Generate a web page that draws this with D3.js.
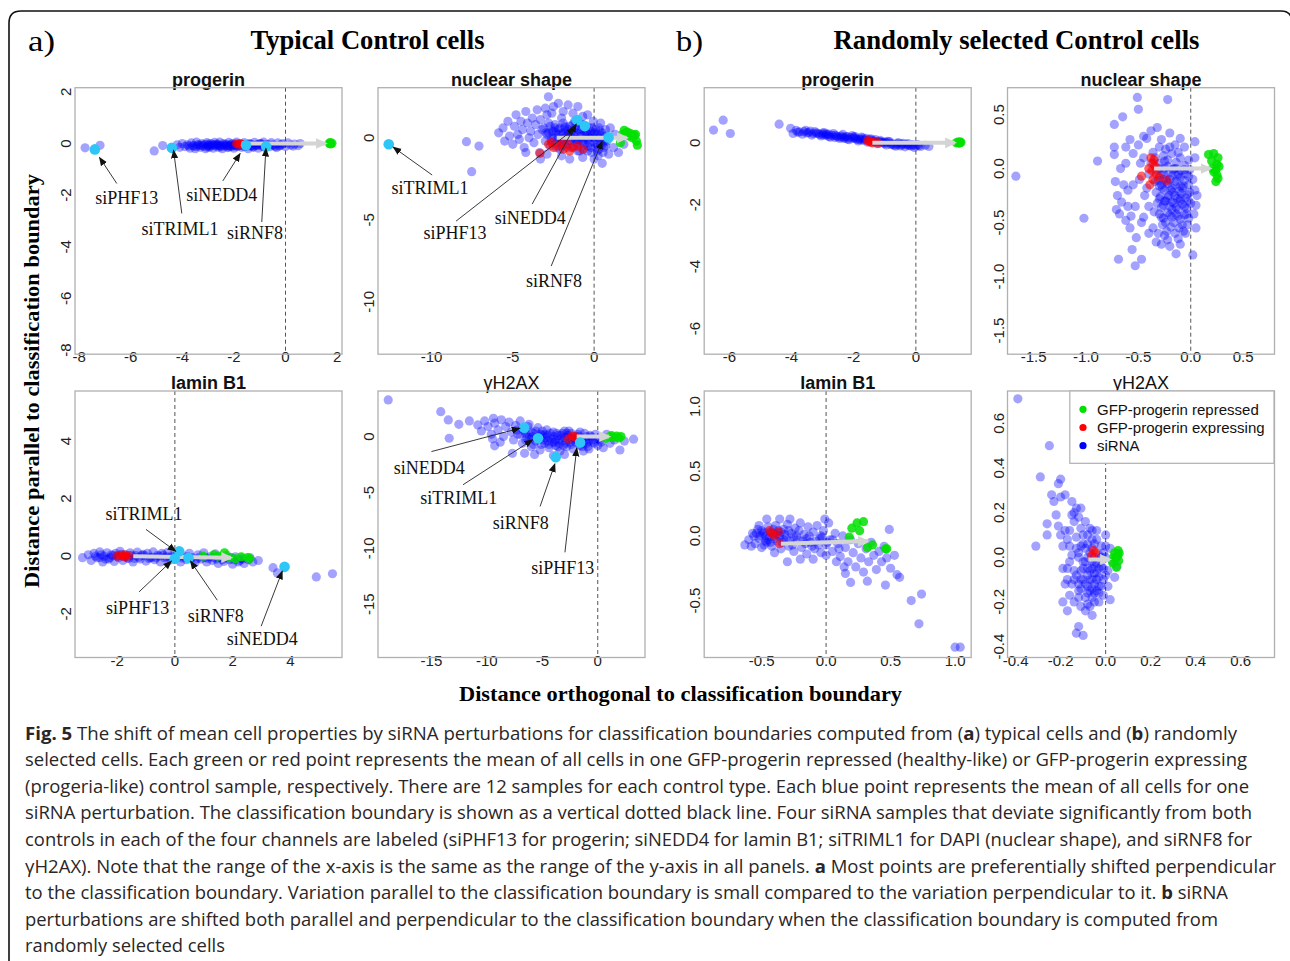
<!DOCTYPE html>
<html>
<head>
<meta charset="utf-8">
<script src="https://cdn.jsdelivr.net/npm/d3@7"></script>
<style>
  body { margin: 0; background: #fff; }
  svg { display: block; }
</style>
</head>
<body>
<div id="chart"></div>
<script>
// ---------- data ----------

// a) typical control cells : progerin
const a1Blue = [[-7.77,-0.17],[-7.19,-0.07],[-5.09,-0.29],[-4.76,-0.08],
  [-4.2,-0.05],[-4.1,-0.15],[-4.0,0.0],[-3.9,-0.12],[-3.8,-0.05],[-3.7,-0.18],[-3.65,0.02],[-3.55,-0.1],[-3.5,-0.2],[-3.45,0.05],
  [-3.4,-0.05],[-3.3,-0.15],[-3.25,0.0],[-3.2,-0.1],[-3.1,-0.2],[-3.05,0.03],[-3.0,-0.08],[-2.95,-0.15],[-2.9,0.0],[-2.85,-0.05],
  [-2.8,-0.18],[-2.75,0.04],[-2.7,-0.1],[-2.65,-0.02],[-2.6,-0.15],[-2.55,0.05],[-2.5,-0.08],[-2.45,-0.2],[-2.4,0.0],[-2.35,-0.1],
  [-2.3,-0.03],[-2.25,-0.16],[-2.2,0.04],[-2.15,-0.07],[-2.1,-0.12],[-2.05,0.0],[-2.0,-0.18],[-1.95,-0.05],[-1.9,0.05],[-1.85,-0.12],
  [-1.75,-0.02],[-1.7,-0.15],[-1.6,0.03],[-1.5,-0.1],[-1.45,-0.2],[-1.4,0.0],[-1.3,-0.08],[-1.25,-0.15],[-1.2,0.04],[-1.1,-0.05],
  [-1.05,-0.18],[-1.0,0.0],[-0.9,-0.1],[-0.85,0.05],[-0.8,-0.15],[-0.7,-0.03],[-0.6,-0.12],[-0.55,0.03],[-0.45,-0.07],[-0.35,-0.16],
  [-0.3,0.02],[-0.2,-0.08],[-0.1,0.0],[0.0,-0.12],[0.1,0.02],[0.2,-0.06],[0.35,-0.02],[0.5,-0.08],[0.57,0.0],
  [-3.6,-0.08],[-3.35,-0.06],[-3.15,-0.04],[-2.98,-0.1],[-2.78,-0.06],[-2.58,-0.09],[-2.38,-0.05],[-2.18,-0.1],[-1.98,-0.06],
  [-1.8,-0.08],[-1.55,-0.05],[-1.35,-0.1],[-1.15,-0.07],[-0.95,-0.04],[-0.75,-0.09],[-0.5,-0.05],[-0.25,-0.1],
  [-3.45,-0.12],[-3.25,-0.08],[-3.05,-0.14],[-2.9,-0.09],[-2.7,-0.04],[-2.5,-0.13],[-2.3,-0.08],[-2.1,-0.03],[-1.9,-0.1],
  [-1.65,-0.08],[-1.45,-0.03],[-1.25,-0.12],[-1.05,-0.07],[-0.85,-0.12],[-0.65,-0.06],[-0.4,-0.12],[-3.75,-0.1],[-3.0,-0.02],
  [-2.2,-0.14],[-1.6,-0.12],[-0.95,0.0],[-0.15,-0.04],[0.3,-0.1],[-2.6,-0.06],[-2.0,-0.09],[-1.35,-0.02]];
const a1Red = [[-1.82,-0.03],[-1.75,0.0],[-1.9,-0.01],[-1.7,-0.04]];
const a1Green = [[1.7,0.0],[1.75,-0.02],[1.8,0.01],[1.72,0.03]];
const a1Cyan = [[-7.39,-0.23],[-4.41,-0.17],[-1.53,-0.07],[-0.75,-0.12]];
const a1Shift = [[-1.7,0.0],[1.55,0.0]];
const a1Notes = [
  { name: "siPHF13",  label: [-6.15,-2.13], from: [-6.54,-1.55], tip: [-7.21,-0.54] },
  { name: "siTRIML1", label: [-4.09,-3.32], from: [-4.02,-2.71], tip: [-4.34,-0.26] },
  { name: "siNEDD4",  label: [-2.47,-2.0],  from: [-2.43,-1.45], tip: [-1.76,-0.39] },
  { name: "siRNF8",   label: [-1.18,-3.45], from: [-0.92,-3.04], tip: [-0.76,-0.19] }
];

// a) typical control cells : nuclear shape
const a2Blue = [[-7.85,-0.24],[-7.08,-0.51],[-7.53,-2.07],
  [-5.87,0.3],[-5.6,0.6],[-5.5,-0.2],[-5.3,1.0],[-5.2,0.1],[-5.0,-0.4],[-4.9,0.7],[-4.8,1.4],[-4.7,0.2],[-4.6,-0.1],
  [-4.5,1.0],[-4.4,0.5],[-4.3,-0.6],[-4.2,1.6],[-4.1,0.9],[-4.0,0.0],[-3.9,0.4],[-3.8,1.2],[-3.7,-0.3],[-3.6,0.8],
  [-3.5,1.7],[-3.45,0.2],[-3.35,-0.9],[-3.3,1.1],[-3.2,0.5],
  [-2.81,2.5],[-2.5,1.9],[-2.2,2.1],[-1.9,1.6],[-1.6,2.0],[-1.3,1.5],[-1.0,1.9],[-0.7,1.3],[-2.9,1.4],[-2.6,1.5],
  [-3.0,1.8],[-0.4,1.4],[-2.0,1.2],
  [-3.1,0.6],[-3.0,-0.2],[-2.9,0.2],[-2.8,0.9],[-2.7,-0.5],[-2.6,0.4],[-2.5,0.0],[-2.4,0.8],[-2.3,-0.3],[-2.2,0.5],
  [-2.1,-0.7],[-2.0,0.2],[-1.9,0.9],[-1.8,-0.4],[-1.7,0.4],[-1.6,-0.1],[-1.5,0.7],[-1.4,-0.6],[-1.3,0.2],[-1.2,1.0],
  [-1.1,-0.3],[-1.0,0.5],[-0.9,-0.8],[-0.8,0.1],[-0.7,0.8],[-0.6,-0.4],[-0.5,0.3],[-0.4,-0.1],[-0.3,0.6],[-0.2,-0.6],
  [-0.1,0.2],[0.0,-0.3],[0.1,0.5],[0.2,-0.8],[0.3,0.0],[0.4,-0.4],[0.5,0.3],[0.6,-0.6],[0.7,0.1],[0.8,-0.2],
  [-2.95,0.3],[-2.65,-0.1],[-2.35,0.3],[-2.05,-0.2],[-1.75,0.1],[-1.45,0.3],[-1.15,-0.1],[-0.85,0.4],[-0.55,0.0],
  [-0.25,0.1],[0.05,-0.1],[0.35,0.4],[-1.95,-0.5],[-1.25,-0.5],[-0.65,-0.7],[-0.15,-0.9],[0.25,-1.1],[0.55,-0.9],
  [-3.3,-1.3],[-2.9,-1.0],[-2.0,-1.1],[-1.5,-1.3],[-0.7,-1.2],[0.0,-1.3],[0.5,-1.56],[0.9,-1.0],[1.2,-0.6],[1.5,-0.9],
  [1.83,-0.4],[1.3,0.2],[1.0,0.6],[-4.2,-0.9],[-0.05,1.0],[0.4,0.9],[0.7,0.5],
  [-1.6,0.2],[-1.2,0.1],[-0.8,-0.2],[-0.4,0.2],[0.0,0.0],[-2.2,0.0],[-1.0,-0.1],[-0.3,-0.3],[0.2,0.2],[-1.8,0.6],
  [-2.8,0.3],[-2.6,-0.2],[-2.4,0.6],[-2.2,0.2],[-2.0,-0.1],[-1.8,0.7],[-1.6,0.5],[-1.4,0.0],[-1.2,0.6],[-1.0,-0.3],
  [-0.8,0.5],[-0.6,0.2],[-0.4,-0.5],[-0.2,0.4],[0.0,0.3],[0.2,-0.4],[0.4,0.1],[0.6,-0.2],[-2.7,0.7],[-2.3,-0.6],
  [-1.9,0.3],[-1.5,-0.2],[-1.1,0.3],[-0.7,-0.3],[-0.3,0.0],[0.1,-0.6],[0.5,-0.4],[-1.3,0.8],[-0.9,0.9],[-0.5,0.7],
  [-0.1,0.6],[0.3,0.6],[-1.7,-0.6],[-1.0,-0.8],[-0.4,-0.8],[0.3,-0.7],[0.7,-0.5],[-2.5,0.4],[-2.1,0.6],[-0.6,0.5]];
const a2Red = [[-3.33,-0.95],[-2.8,-0.4],[-2.5,-0.6],[-2.2,-0.5],[-1.9,-0.7],[-1.6,-0.4],[-1.3,-0.6],[-1.0,-0.5],
  [-0.7,-0.7],[-2.6,-0.3],[-2.0,-0.3],[-1.5,-0.8]];
const a2Green = [[1.62,-0.3],[1.75,0.2],[1.85,0.45],[1.95,0.3],[2.05,0.35],[2.15,0.1],[2.25,0.25],[2.35,0.0],
  [2.45,0.15],[2.55,0.2],[2.6,-0.2],[2.66,-0.45]];
const a2Cyan = [[-12.63,-0.40],[-1.04,1.08],[-0.57,0.71],[0.89,0.02]];
const a2Shift = [[-2.3,0.0],[2.0,0.0]];
const a2Notes = [
  { name: "siTRIML1", label: [-10.09,-3.07], from: [-9.96,-2.27], tip: [-12.36,-0.57] },
  { name: "siPHF13",  label: [-8.55,-5.81],  from: [-8.49,-5.08], tip: [-1.16,0.59] },
  { name: "siNEDD4",  label: [-3.93,-4.9],   from: [-3.81,-4.04], tip: [-1.1,0.84] },
  { name: "siRNF8",   label: [-2.46,-8.74],  from: [-2.64,-7.82], tip: [0.5,-0.2] }
];

// a) typical control cells : lamin B1
const a3Blue = [[-3.2,-0.05],[-3.0,0.05],[-2.9,-0.15],[-2.8,0.1],[-2.7,-0.05],[-2.6,0.15],[-2.5,-0.2],[-2.45,0.0],
  [-2.35,0.12],[-2.3,-0.1],[-2.2,0.05],[-2.1,-0.18],[-2.05,0.1],[-1.95,-0.05],[-1.9,0.17],[-1.8,-0.15],[-1.7,0.05],
  [-1.6,-0.08],[-1.55,0.12],[-1.45,-0.2],[-1.35,0.02],[-1.3,0.14],[-1.2,-0.1],[-1.1,0.06],[-1.0,-0.17],[-0.95,0.1],
  [-0.85,-0.05],[-0.75,0.15],[-0.7,-0.12],[-0.6,0.03],[-0.5,-0.2],[-0.45,0.1],[-0.35,-0.06],[-0.25,0.13],[-0.2,-0.15],
  [-0.1,0.02],[0.0,-0.1],[0.1,0.08],[0.2,-0.2],[0.3,0.0],[0.4,-0.12],[0.5,0.1],[0.6,-0.05],[0.7,-0.22],[0.8,0.05],
  [0.9,-0.1],[1.0,0.12],[1.1,-0.2],[1.2,-0.02],[1.3,-0.15],[1.4,0.08],[1.5,-0.25],[1.6,-0.05],[1.7,-0.18],[1.8,0.03],
  [1.9,-0.12],[2.0,-0.28],[2.1,-0.02],[2.2,-0.2],[2.3,-0.08],[2.4,-0.25],[2.55,-0.12],[2.7,-0.2],[2.89,-0.15],
  [-2.75,0.0],[-2.55,0.05],[-2.25,-0.05],[-2.0,0.0],[-1.75,-0.02],[-1.5,0.03],[-1.25,-0.04],[-1.05,0.02],[-0.8,-0.03],
  [-0.55,0.0],[-0.3,-0.02],[-0.05,0.0],[0.25,-0.06],[0.55,-0.08],[0.85,-0.04],[1.15,-0.08],[1.45,-0.1],[1.75,-0.06],
  [2.05,-0.12],[2.35,-0.1],
  [-2.6,-0.05],[-2.4,-0.1],[-2.15,0.02],[-1.85,0.06],[-1.65,-0.06],[-1.4,-0.08],[-1.15,0.03],[-0.9,-0.08],[-0.65,-0.05],
  [-0.4,0.04],[-0.15,-0.06],[0.15,-0.02],[0.45,-0.02],[0.75,-0.1],[1.05,-0.05],[1.35,-0.05],[1.65,-0.12],[1.95,-0.05],
  [2.25,-0.15],[2.6,-0.05],
  [3.4,-0.4],[3.55,-0.58],[4.9,-0.72],[5.46,-0.61]];
const a3Red = [[-1.8,0.0],[-1.9,0.03],[-1.7,-0.02],[-1.6,0.02],[-2.0,0.0],[-1.75,0.05]];
const a3Green = [[0.98,0.0],[1.35,0.05],[1.72,0.12],[1.9,-0.05],[2.1,-0.09],[2.52,-0.05],[2.6,-0.08],[1.5,0.0],[2.3,-0.02]];
const a3Cyan = [[0.15,0.17],[0.0,-0.09],[0.47,-0.06],[3.8,-0.37]];
const a3Shift = [[-1.44,0.0],[1.94,-0.05]];
const a3Notes = [
  { name: "siTRIML1", label: [-1.07,1.45],  from: [-1.0,0.93],   tip: [0.03,0.17] },
  { name: "siPHF13",  label: [-1.29,-1.79], from: [-1.24,-1.24], tip: [-0.12,-0.17] },
  { name: "siRNF8",   label: [1.42,-2.08],  from: [1.47,-1.53],  tip: [0.54,-0.17] },
  { name: "siNEDD4",  label: [3.03,-2.87],  from: [2.99,-2.43],  tip: [3.72,-0.52] }
];

// a) typical control cells : gammaH2AX
const a4Blue = [[-18.9,3.28],[-14.16,2.23],[-13.48,1.49],[-12.53,1.1],[-11.58,1.4],[-13.4,-0.15],[-10.82,1.04],[-9.41,1.64],[-9.3,-0.83],
  [-10.5,0.5],[-10.2,1.4],[-9.9,0.9],[-9.6,0.2],[-9.3,1.2],[-9.0,0.6],[-8.7,1.5],[-8.5,0.0],[-8.3,0.9],[-8.0,1.3],
  [-7.8,0.4],[-7.6,-0.3],[-7.4,1.0],[-7.2,0.2],[-7.0,1.4],[-6.8,-0.6],[-6.6,0.5],[-6.4,-0.1],[-6.2,1.1],[-6.0,-0.9],
  [-5.8,0.3],[-5.6,-0.4],[-5.4,0.8],[-5.2,-1.2],[-5.0,0.1],[-4.8,-0.6],[-4.6,0.6],[-4.4,-1.0],[-4.2,-0.2],[-4.0,0.4],
  [-3.8,-0.8],[-3.6,0.1],[-3.4,-1.3],[-3.2,-0.4],[-3.0,0.5],[-2.8,-0.9],[-2.6,-0.1],[-2.4,0.3],[-2.2,-1.1],[-2.0,-0.5],
  [-1.8,0.2],[-1.6,-0.8],[-1.4,-0.2],[-1.2,0.3],[-1.0,-0.6],[-0.8,-1.1],[-0.6,0.0],[-0.4,-0.5],[-0.2,0.2],[0.0,-0.8],
  [0.2,-0.3],[0.5,-1.0],[0.8,0.2],[1.1,-0.6],[1.5,-0.3],[2.0,-1.2],[2.4,-0.4],[3.23,-0.23],
  [-7.0,0.2],[-6.5,-0.3],[-6.0,0.4],[-5.5,-0.1],[-5.0,0.5],[-4.5,-0.4],[-4.0,0.0],[-3.5,-0.6],[-3.0,-0.1],[-2.5,-0.5],
  [-2.0,0.0],[-1.5,-0.4],[-1.0,0.0],[-0.5,-0.3],[0.0,-0.2],[-6.8,0.7],[-5.8,-0.7],[-4.8,0.2],[-3.8,-0.3],[-2.8,0.3],
  [-1.8,-0.3],[-0.8,-0.4],[-5.3,0.0],[-4.3,0.3],[-3.3,0.1],[-2.3,-0.3],[-1.3,-0.6],[-6.2,-0.1],[-3.6,-0.9],[-2.9,-0.6],
  [-6.5,0.3],[-6.0,-0.2],[-5.6,0.5],[-5.2,0.2],[-4.9,-0.3],[-4.5,0.1],[-4.1,-0.5],[-3.7,0.3],[-3.4,-0.2],[-3.1,-0.8],
  [-2.7,0.1],[-2.4,-0.7],[-2.1,-0.2],[-1.7,0.0],[-1.4,-0.9],[-1.1,-0.3],[-0.7,0.1],[-0.3,-0.6],[0.3,-0.5],[-5.9,0.0],
  [-4.7,-0.1],[-3.9,-0.5],[-2.6,0.5],[-1.6,0.4],[-0.9,-0.9],[-7.3,0.6],[-6.3,0.9],[-5.1,-0.7],[-4.4,-0.7],[-3.2,0.3],
  [-7.7,-1.5],[-6.6,-1.5],[-5.7,-1.6],[-4.0,-1.7],[-3.0,-1.6],[-1.3,-1.3],[-8.8,-0.5],[-9.5,-0.2]];
const a4Red = [[-2.08,0.0],[-2.65,-0.2],[-2.3,0.05],[-1.9,-0.1]];
const a4Green = [[0.76,-0.15],[1.1,0.0],[1.4,-0.1],[1.7,0.05],[2.09,0.0],[1.9,-0.12],[1.25,0.08]];
const a4Cyan = [[-6.64,0.8],[-5.39,-0.15],[-3.79,-1.84],[-1.59,-0.53]];
const a4Shift = [[-1.9,0.0],[1.0,0.0]];
const a4Notes = [
  { name: "siNEDD4",  label: [-15.19,-2.82], from: [-15.0,-1.34], tip: [-7.02,0.75] },
  { name: "siTRIML1", label: [-12.53,-5.5],  from: [-12.15,-4.31], tip: [-5.88,-0.29] },
  { name: "siRNF8",   label: [-6.95,-7.73],  from: [-5.2,-6.25],  tip: [-3.87,-2.44] },
  { name: "siPHF13",  label: [-3.15,-11.75], from: [-2.96,-10.36], tip: [-1.9,-1.04] }
];

// b) randomly selected control cells : progerin
const b1Blue = [[-6.51,0.41],[-6.2,0.73],[-5.97,0.30],[-4.4,0.6],[-4.03,0.47],
  [-3.95,0.3],[-3.85,0.4],[-3.75,0.35],[-3.65,0.28],[-3.55,0.4],[-3.45,0.33],[-3.35,0.25],[-3.25,0.36],[-3.15,0.3],
  [-3.05,0.22],[-2.95,0.33],[-2.85,0.26],[-2.75,0.18],[-2.65,0.3],[-2.55,0.22],[-2.45,0.14],[-2.35,0.27],[-2.25,0.2],
  [-2.15,0.1],[-2.05,0.23],[-1.95,0.15],[-1.85,0.06],[-1.75,0.18],[-1.65,0.1],[-1.55,0.02],[-1.45,0.13],[-1.35,0.05],
  [-1.25,-0.03],[-1.15,0.08],[-1.05,0.0],[-0.95,-0.07],[-0.85,0.04],[-0.75,-0.04],[-0.65,-0.11],[-0.55,0.0],[-0.45,-0.07],
  [-0.35,-0.13],[-0.25,-0.03],[-0.15,-0.1],[-0.05,-0.15],[0.05,-0.06],[0.15,-0.12],[0.3,-0.08],[0.42,-0.12],
  [-3.5,0.32],[-3.3,0.3],[-3.1,0.27],[-2.9,0.24],[-2.7,0.24],[-2.5,0.19],[-2.3,0.17],[-2.1,0.16],[-1.9,0.11],[-1.7,0.08],
  [-1.6,0.14],[-1.4,0.09],[-1.2,0.03],[-1.0,-0.03],[-0.8,-0.02],[-0.6,-0.06],[-0.4,-0.02],[-0.2,-0.09],[0.0,-0.1],
  [-3.4,0.38],[-3.0,0.31],[-2.8,0.2],[-2.6,0.17],[-2.4,0.22],[-2.2,0.12],[-2.0,0.19],[-1.8,0.13],[-1.3,0.1],[-1.1,0.02],
  [-0.9,0.05],[-0.7,-0.08],[-0.5,-0.1],[-0.3,-0.05],
  [-3.6,0.36],[-3.2,0.32],[-3.0,0.26],[-2.8,0.28],[-2.6,0.24],[-2.4,0.18],[-2.2,0.2],[-2.0,0.14],[-1.8,0.1],[-1.7,0.15],
  [-1.5,0.11],[-1.3,0.02],[-1.15,0.04],[-0.95,0.01],[-0.8,-0.06],[-0.6,-0.01],[-0.45,-0.04],[-0.25,-0.08],[-0.1,-0.06],
  [0.1,-0.09],[-3.8,0.34],[-2.9,0.29],[-2.3,0.14],[-1.95,0.2],[-1.0,0.03]];
const b1Red = [[-1.51,0.05],[-1.45,0.02],[-1.55,0.07],[-1.4,0.0],[-1.2,-0.02],[-1.3,0.04]];
const b1Green = [[1.3,0.0],[1.35,0.02],[1.4,-0.01],[1.45,0.01],[1.38,0.0],[1.42,0.03]];
const b1Shift = [[-1.4,0.0],[1.25,0.0]];

// b) randomly selected control cells : nuclear shape
const b2Blue = [[-1.67,-0.07],[-1.02,-0.46],[-0.89,0.07],[-0.51,0.66],[-0.50,0.55],[-0.22,0.64],[-0.65,0.48],[-0.73,0.41],
  [-0.53,-0.90],[-0.69,-0.84],[-0.47,-0.84],[-0.56,-0.75],[-0.14,-0.79],[0.02,-0.80],
  [-0.73,0.2],[-0.73,0.13],[-0.72,-0.12],[-0.7,-0.25],[-0.71,-0.38],[-0.68,-0.42],[-0.66,-0.31],[-0.62,0.05],[-0.6,-0.2],
  [-0.58,-0.55],[-0.55,0.14],[-0.53,-0.35],[-0.5,0.22],[-0.49,-0.1],[-0.47,-0.5],[-0.45,0.3],[-0.44,-0.25],[-0.52,-0.64],
  [-0.57,-0.44],[-0.62,-0.48],[-0.64,-0.15],[-0.67,0.0],
  [-0.38,0.35],[-0.32,0.38],[-0.42,0.28],[-0.28,0.27],[-0.2,0.33],[-0.1,0.28],[-0.15,0.22],[-0.3,0.2],[0.04,0.25],[-0.36,0.15],
  [-0.34,0.1],[-0.3,0.05],[-0.26,0.12],[-0.22,0.08],[-0.18,0.14],[-0.14,0.06],[-0.1,0.1],[-0.06,0.03],[-0.02,0.08],
  [-0.33,-0.02],[-0.29,-0.06],[-0.25,0.0],[-0.21,-0.04],[-0.17,-0.01],[-0.13,-0.07],[-0.09,-0.02],[-0.05,-0.05],[-0.01,-0.01],
  [-0.34,-0.12],[-0.3,-0.16],[-0.26,-0.1],[-0.22,-0.14],[-0.18,-0.18],[-0.14,-0.12],[-0.1,-0.16],[-0.06,-0.11],[-0.02,-0.15],
  [-0.33,-0.22],[-0.29,-0.26],[-0.25,-0.2],[-0.21,-0.25],[-0.17,-0.22],[-0.13,-0.28],[-0.09,-0.23],[-0.05,-0.27],[-0.01,-0.22],
  [-0.32,-0.32],[-0.28,-0.36],[-0.24,-0.3],[-0.2,-0.35],[-0.16,-0.32],[-0.12,-0.38],[-0.08,-0.33],[-0.04,-0.37],[0.0,-0.32],
  [-0.3,-0.42],[-0.26,-0.46],[-0.22,-0.41],[-0.18,-0.45],[-0.14,-0.42],[-0.1,-0.47],[-0.06,-0.43],[-0.02,-0.46],
  [-0.36,-0.55],[-0.31,-0.6],[-0.27,-0.52],[-0.23,-0.58],[-0.19,-0.54],[-0.15,-0.6],[-0.11,-0.55],[-0.07,-0.58],[-0.03,-0.52],
  [0.03,-0.42],[0.05,-0.34],[0.04,-0.2],[0.02,-0.1],
  [-0.33,-0.68],[-0.28,-0.7],[-0.22,-0.66],[-0.2,-0.72],[-0.12,-0.65],[-0.05,-0.6],
  [-0.2,-0.1],[-0.15,-0.25],[-0.12,-0.05],[-0.08,-0.18],[-0.25,-0.3],[-0.18,-0.38],[-0.1,-0.3],[-0.28,-0.15],[-0.16,0.0],
  [-0.24,0.18],[-0.4,-0.05],[-0.4,-0.35],[-0.38,0.05],[-0.42,-0.18],
  [-0.3,0.0],[-0.26,-0.05],[-0.22,0.02],[-0.18,-0.07],[-0.14,0.0],[-0.1,-0.08],[-0.06,-0.01],[-0.02,-0.07],
  [-0.31,-0.11],[-0.27,-0.18],[-0.23,-0.12],[-0.19,-0.2],[-0.15,-0.15],[-0.11,-0.21],[-0.07,-0.16],[-0.03,-0.24],
  [-0.3,-0.28],[-0.26,-0.34],[-0.22,-0.27],[-0.18,-0.31],[-0.14,-0.36],[-0.1,-0.28],[-0.06,-0.35],[-0.02,-0.3],
  [-0.28,-0.45],[-0.24,-0.5],[-0.2,-0.43],[-0.16,-0.5],[-0.12,-0.44],[-0.08,-0.52],[-0.04,-0.42],
  [-0.25,0.07],[-0.2,0.2],[-0.12,0.15],[-0.06,0.2],[-0.45,-0.45],[-0.4,-0.6],[-0.35,-0.4],[-0.48,0.05],[-0.55,-0.15],
  [-0.6,-0.35],[-0.62,0.2],[-0.45,0.1],[-0.58,0.27],[-0.1,-0.7],[-0.25,-0.62],[0.05,-0.55],[0.04,0.1],[0.06,-0.25]];
const b2Red = [[-0.36,0.05],[-0.47,-0.07],[-0.39,-0.15],[-0.23,-0.11],[-0.37,-0.02],[-0.35,0.08],[-0.33,-0.05],[-0.4,0.0],
  [-0.3,-0.08],[-0.38,0.1],[-0.34,0.02],[-0.36,-0.1]];
const b2Green = [[0.17,0.13],[0.22,0.14],[0.26,0.1],[0.2,0.07],[0.25,0.04],[0.24,-0.01],[0.27,0.02],[0.22,-0.03],
  [0.25,-0.06],[0.26,-0.09],[0.24,-0.12],[0.21,0.0]];
const b2Shift = [[-0.35,0.0],[0.185,0.0]];

// b) randomly selected control cells : lamin B1
const b3Blue = [[0.66,-0.50],[0.74,-0.45],[0.72,-0.68],[1.0,-0.86],[1.04,-0.86],
  [0.49,0.05],[0.46,-0.38],[0.57,-0.32],[0.19,-0.36],[0.32,-0.35],[0.15,-0.29],
  [-0.46,0.13],[-0.36,0.13],[-0.28,0.13],[-0.01,0.13],[-0.63,-0.07],
  [-0.6,-0.03],[-0.57,0.02],[-0.55,-0.06],[-0.53,0.05],[-0.51,0.0],[-0.5,-0.09],[-0.48,0.03],[-0.47,-0.04],[-0.45,0.07],
  [-0.44,-0.01],[-0.42,-0.08],[-0.41,0.02],[-0.39,0.08],[-0.38,-0.04],[-0.36,0.0],[-0.35,-0.1],[-0.33,0.05],[-0.31,-0.02],
  [-0.3,0.09],[-0.29,-0.08],[-0.27,0.02],[-0.25,-0.12],[-0.24,0.06],[-0.22,-0.03],[-0.2,0.1],[-0.19,-0.09],[-0.17,0.01],
  [-0.15,-0.14],[-0.14,0.07],[-0.12,-0.05],[-0.1,0.03],[-0.09,-0.1],[-0.07,0.08],[-0.05,-0.02],[-0.04,-0.13],[-0.02,0.04],
  [0.0,-0.07],[0.02,0.1],[0.03,-0.03],[0.05,-0.12],[0.07,0.02],[0.09,-0.06],[0.11,-0.16],[0.13,0.0],[0.15,-0.09],
  [0.17,-0.2],[0.19,-0.03],[0.21,-0.13],[0.23,-0.24],[0.25,-0.06],[0.27,-0.17],[0.29,-0.28],[0.31,-0.1],[0.33,-0.2],
  [0.35,-0.05],[0.37,-0.15],[0.39,-0.26],[0.41,-0.12],[0.43,-0.2],[0.45,-0.08],[0.47,-0.17],[0.5,-0.25],[0.53,-0.15],[0.55,-0.3],
  [-0.56,0.0],[-0.52,-0.02],[-0.49,0.02],[-0.46,-0.05],[-0.43,0.03],[-0.4,-0.02],[-0.37,0.04],[-0.34,-0.05],[-0.32,0.01],
  [-0.28,-0.04],[-0.23,0.0],[-0.18,-0.04],[-0.13,0.0],[-0.08,-0.04],[-0.03,-0.01],[0.01,-0.05],[-0.26,-0.07],[-0.16,-0.06],
  [-0.06,-0.07],[-0.3,-0.2],[-0.2,-0.18],[-0.1,-0.18],[0.0,-0.15],[-0.4,-0.13],[0.08,-0.2],[0.14,-0.24],
  [-0.54,0.02],[-0.5,0.04],[-0.47,0.0],[-0.45,-0.03],[-0.43,-0.05],[-0.41,0.05],[-0.38,0.01],[-0.35,0.03],[-0.33,-0.03],
  [-0.29,0.04],[-0.25,-0.01],[-0.21,0.04],[-0.15,-0.02],[-0.11,-0.08],[-0.04,0.0],[0.05,-0.03],[0.1,-0.1],[-0.58,-0.08],
  [-0.52,0.08],[-0.48,-0.07]];
const b3Red = [[-0.44,0.04],[-0.37,0.03],[-0.36,-0.06],[-0.4,0.0],[-0.42,0.02]];
const b3Green = [[0.18,-0.01],[0.2,0.06],[0.24,0.10],[0.26,0.04],[0.29,0.11],[0.32,-0.09],[0.36,-0.07],[0.46,-0.10],[0.47,-0.10]];
const b3Shift = [[-0.35,-0.06],[0.32,-0.04]];

// b) randomly selected control cells : gammaH2AX
const b4Blue = [[-0.39,0.71],[-0.25,0.50],[-0.29,0.36],[-0.2,0.35],[-0.21,0.33],[-0.24,0.28],[-0.23,0.25],[-0.18,0.28],
  [-0.2,0.27],[-0.15,0.25],[-0.26,0.15],[-0.31,0.05],[-0.26,0.10],[-0.11,0.22],[-0.22,0.19],
  [-0.12,-0.31],[-0.13,-0.34],[-0.10,-0.35],[-0.17,-0.24],[-0.19,-0.2],[-0.06,-0.26],[-0.07,-0.22],
  [-0.18,0.12],[-0.16,0.05],[-0.17,-0.05],[-0.15,-0.12],[-0.16,-0.17],[-0.14,0.16],[-0.13,0.09],[-0.12,0.02],[-0.13,-0.08],
  [-0.12,-0.15],[-0.11,0.13],[-0.1,0.06],[-0.1,-0.02],[-0.11,-0.1],[-0.09,-0.18],[-0.09,0.16],[-0.08,0.1],[-0.08,0.0],
  [-0.07,-0.06],[-0.08,-0.13],[-0.06,0.12],[-0.06,0.04],[-0.05,-0.03],[-0.06,-0.1],[-0.05,-0.16],[-0.04,0.08],[-0.03,0.01],
  [-0.04,-0.07],[-0.03,-0.13],[-0.02,0.05],[-0.02,-0.04],[-0.01,-0.1],[-0.01,-0.17],[0.0,0.1],[0.0,0.0],[0.01,-0.06],
  [0.01,-0.13],[0.02,0.04],[0.03,-0.02],[0.04,-0.09],[0.02,-0.19],[0.05,-0.04],
  [-0.1,-0.05],[-0.08,-0.08],[-0.06,-0.05],[-0.04,-0.1],[-0.07,-0.1],[-0.05,-0.07],[-0.09,-0.12],[-0.03,-0.05],[-0.11,-0.06],
  [-0.07,0.02],[-0.09,0.04],[-0.05,0.0],[-0.12,-0.12],[-0.06,-0.14],[-0.08,-0.16],[-0.04,-0.15],
  [-0.14,0.2],[-0.12,0.18],[-0.17,0.08],[-0.16,-0.02],[-0.14,-0.06],[-0.15,0.01],[-0.2,0.1],[-0.19,-0.05],[-0.18,-0.12],
  [-0.14,-0.2],[-0.11,-0.22],[-0.08,-0.21],[-0.05,-0.2],[-0.03,-0.2],
  [-0.12,0.0],[-0.11,0.05],[-0.1,-0.1],[-0.09,-0.02],[-0.08,0.06],[-0.07,-0.15],[-0.06,-0.02],[-0.05,0.06],[-0.04,-0.03],
  [-0.03,-0.09],[-0.02,0.0],[-0.01,-0.05],[0.0,-0.08],[0.0,0.05],[-0.1,0.1],[-0.07,0.13],[-0.04,0.12],[-0.13,0.04],
  [-0.14,-0.1],[-0.12,-0.18],[-0.09,-0.24],[-0.06,-0.18],[-0.03,-0.16],[-0.01,0.02],[-0.08,-0.05],[-0.06,0.08],
  [-0.11,-0.14],[-0.05,-0.12],[-0.02,-0.13],[-0.16,0.12],[-0.19,0.05],[-0.17,-0.1],[-0.15,0.19],[-0.13,0.22],[-0.21,0.14]];
const b4Red = [[-0.054,0.03],[-0.045,0.02],[-0.063,0.007]];
const b4Green = [[0.036,0.0],[0.053,0.007],[0.058,-0.015],[0.048,-0.045],[0.032,-0.026],[0.06,0.018],[0.045,-0.005],
  [0.04,0.02],[0.055,0.03]];
const b4Shift = [[-0.077,-0.01],[0.018,-0.01]];

// panel titles, axis domains and tick values
const panelTitles = ["progerin", "nuclear shape", "progerin", "nuclear shape", "lamin B1", "\u03b3H2AX", "lamin B1", "\u03b3H2AX"];
const xDomains = [[-8.16,2.19],[-13.29,3.13],[-6.81,1.78],[-1.75,0.80],[-3.46,5.79],[-19.82,4.26],[-0.945,1.125],[-0.436,0.75]];
const yDomains = [[-8.16,2.16],[-13.19,3.05],[-6.83,1.78],[-1.72,0.75],[-3.52,5.74],[-19.77,4.08],[-0.94,1.12],[-0.449,0.745]];
const xTicks = [[-8,-6,-4,-2,0,2],[-10,-5,0],[-6,-4,-2,0],[-1.5,-1.0,-0.5,0.0,0.5],[-2,0,2,4],[-15,-10,-5,0],[-0.5,0.0,0.5,1.0],[-0.4,-0.2,0.0,0.2,0.4,0.6]];
const yTicks = [[-8,-6,-4,-2,0,2],[-10,-5,0],[-6,-4,-2,0],[-1.5,-1.0,-0.5,0.0,0.5],[-2,0,2,4],[-15,-10,-5,0],[-0.5,0.0,0.5,1.0],[-0.4,-0.2,0.0,0.2,0.4,0.6]];
const tickDecimals = [0,0,0,1,0,0,1,1];

const legendLabels = ["GFP-progerin repressed", "GFP-progerin expressing", "siRNA"];

const captionLines = [
  [["Fig. 5", true], [" The shift of mean cell properties by siRNA perturbations for classification boundaries computed from (", false], ["a", true], [") typical cells and (", false], ["b", true], [") randomly", false]],
  [["selected cells. Each green or red point represents the mean of all cells in one GFP-progerin repressed (healthy-like) or GFP-progerin expressing", false]],
  [["(progeria-like) control sample, respectively. There are 12 samples for each control type. Each blue point represents the mean of all cells for one", false]],
  [["siRNA perturbation. The classification boundary is shown as a vertical dotted black line. Four siRNA samples that deviate significantly from both", false]],
  [["controls in each of the four channels are labeled (siPHF13 for progerin; siNEDD4 for lamin B1; siTRIML1 for DAPI (nuclear shape), and siRNF8 for", false]],
  [["\u03b3H2AX). Note that the range of the x-axis is the same as the range of the y-axis in all panels. ", false], ["a", true], [" Most points are preferentially shifted perpendicular", false]],
  [["to the classification boundary. Variation parallel to the classification boundary is small compared to the variation perpendicular to it. ", false], ["b", true], [" siRNA", false]],
  [["perturbations are shifted both parallel and perpendicular to the classification boundary when the classification boundary is computed from", false]],
  [["randomly selected cells", false]]
];
const captionWidths = [1212, 1222, 1224, 1227, 1227, 1251, 1203, 1193, 200];

// ---------- layout ----------
const W = 1290, H = 961;
const colX = [75, 378, 704.2, 1007.5];
const rowY = [87.7, 391];
const pw = 267, ph = 266.5;

const panels = [
  { c: 0, r: 0, blue: a1Blue, red: a1Red, green: a1Green, cyan: a1Cyan, shift: a1Shift, notes: a1Notes },
  { c: 1, r: 0, blue: a2Blue, red: a2Red, green: a2Green, cyan: a2Cyan, shift: a2Shift, notes: a2Notes },
  { c: 2, r: 0, blue: b1Blue, red: b1Red, green: b1Green, cyan: [], shift: b1Shift, notes: [] },
  { c: 3, r: 0, blue: b2Blue, red: b2Red, green: b2Green, cyan: [], shift: b2Shift, notes: [] },
  { c: 0, r: 1, blue: a3Blue, red: a3Red, green: a3Green, cyan: a3Cyan, shift: a3Shift, notes: a3Notes },
  { c: 1, r: 1, blue: a4Blue, red: a4Red, green: a4Green, cyan: a4Cyan, shift: a4Shift, notes: a4Notes },
  { c: 2, r: 1, blue: b3Blue, red: b3Red, green: b3Green, cyan: [], shift: b3Shift, notes: [] },
  { c: 3, r: 1, blue: b4Blue, red: b4Red, green: b4Green, cyan: [], shift: b4Shift, notes: [] }
];

const SANS = "'Liberation Sans', Arial, sans-serif";
const SERIF = "'Liberation Serif', 'Times New Roman', serif";
const BLUE = "rgba(0,0,255,0.36)", RED = "rgba(255,0,0,0.6)", GREEN = "rgba(0,225,0,0.85)", CYAN = "#2ec6f6";

const svg = d3.select("#chart").append("svg")
  .attr("width", W).attr("height", H)
  .style("background", "#fff");

const defs = svg.append("defs");
defs.append("marker").attr("id", "annHead")
  .attr("viewBox", "0 0 10 10").attr("refX", 9).attr("refY", 5)
  .attr("markerWidth", 9).attr("markerHeight", 9).attr("markerUnits", "userSpaceOnUse")
  .attr("orient", "auto")
  .append("path").attr("d", "M0,1 L10,5 L0,9 Z").attr("fill", "#111");
defs.append("marker").attr("id", "shiftHead")
  .attr("viewBox", "0 0 10 10").attr("refX", 8).attr("refY", 5)
  .attr("markerWidth", 12).attr("markerHeight", 12).attr("markerUnits", "userSpaceOnUse")
  .attr("orient", "auto")
  .append("path").attr("d", "M0,0.5 L10,5 L0,9.5 Z").attr("fill", "#d4d4d4");

// outer frame (open at the bottom, clipped at the right)
svg.append("path")
  .attr("d", "M9,961 V23 Q9,11 21,11 H1281 Q1289,11 1291,17")
  .attr("fill", "none").attr("stroke", "#111").attr("stroke-width", 1.6);

// headings
svg.append("text").attr("x", 28).attr("y", 51).attr("font-family", SERIF).attr("font-size", 30)
  .attr("textLength", 27).attr("lengthAdjust", "spacingAndGlyphs").text("a)");
svg.append("text").attr("x", 250.5).attr("y", 48.5).attr("font-family", SERIF).attr("font-size", 27)
  .attr("font-weight", "bold").attr("textLength", 234).attr("lengthAdjust", "spacingAndGlyphs").text("Typical Control cells");
svg.append("text").attr("x", 676).attr("y", 51).attr("font-family", SERIF).attr("font-size", 30)
  .attr("textLength", 27).attr("lengthAdjust", "spacingAndGlyphs").text("b)");
svg.append("text").attr("x", 833.5).attr("y", 48.5).attr("font-family", SERIF).attr("font-size", 27)
  .attr("font-weight", "bold").attr("textLength", 366).attr("lengthAdjust", "spacingAndGlyphs").text("Randomly selected Control cells");

// common axis titles
svg.append("text")
  .attr("transform", "translate(38.5,381) rotate(-90)")
  .attr("text-anchor", "middle").attr("font-family", SERIF).attr("font-size", 22).attr("font-weight", "bold")
  .attr("textLength", 414).attr("lengthAdjust", "spacingAndGlyphs")
  .text("Distance parallel to classification boundary");
svg.append("text")
  .attr("x", 680.5).attr("y", 701).attr("text-anchor", "middle")
  .attr("font-family", SERIF).attr("font-size", 21).attr("font-weight", "bold")
  .attr("textLength", 443).attr("lengthAdjust", "spacingAndGlyphs")
  .text("Distance orthogonal to classification boundary");

// ---------- panels ----------
panels.forEach((p, i) => {
  const x0 = colX[p.c], y0 = rowY[p.r];
  const x = d3.scaleLinear().domain(xDomains[i]).range([x0, x0 + pw]);
  const y = d3.scaleLinear().domain(yDomains[i]).range([y0 + ph, y0]);
  const fmt = v => v.toFixed(tickDecimals[i]);
  const g = svg.append("g");

  // panel title
  g.append("text")
    .attr("x", x0 + pw / 2).attr("y", y0 - 2).attr("text-anchor", "middle")
    .attr("font-family", SANS).attr("font-size", 18)
    .attr("font-weight", panelTitles[i].startsWith("\u03b3") ? "normal" : "bold")
    .attr("fill", "#111")
    .text(panelTitles[i]);

  // tick labels (R style: no tick marks visible, labels hugging the box)
  g.selectAll(".xt").data(xTicks[i]).join("text")
    .attr("x", d => x(d)).attr("y", y0 + ph + 8)
    .attr("text-anchor", "middle").attr("font-family", SANS).attr("font-size", 15).attr("fill", "#222")
    .text(fmt);
  g.selectAll(".yt").data(yTicks[i]).join("text")
    .attr("transform", d => `translate(${x0 - 4},${y(d)}) rotate(-90)`)
    .attr("text-anchor", "middle").attr("font-family", SANS).attr("font-size", 15).attr("fill", "#222")
    .text(fmt);

  // classification boundary
  g.append("line")
    .attr("x1", x(0)).attr("x2", x(0)).attr("y1", y0).attr("y2", y0 + ph)
    .attr("stroke", "#555").attr("stroke-width", 1).attr("stroke-dasharray", "4,3");

  // points
  const dots = (data, fill, r) => g.append("g").selectAll("circle").data(data).join("circle")
    .attr("cx", d => x(d[0])).attr("cy", d => y(d[1])).attr("r", r).attr("fill", fill);
  dots(p.blue, BLUE, 4.6);
  dots(p.red, RED, 4.6);
  dots(p.green, GREEN, 4.6);

  // mean shift arrow (expressing -> repressed)
  g.append("line")
    .attr("x1", x(p.shift[0][0])).attr("y1", y(p.shift[0][1]))
    .attr("x2", x(p.shift[1][0])).attr("y2", y(p.shift[1][1]))
    .attr("stroke", "#d4d4d4").attr("stroke-width", 4)
    .attr("marker-end", "url(#shiftHead)");

  dots(p.cyan, CYAN, 5.3);

  // annotations
  p.notes.forEach(n => {
    g.append("line")
      .attr("x1", x(n.from[0])).attr("y1", y(n.from[1]))
      .attr("x2", x(n.tip[0])).attr("y2", y(n.tip[1]))
      .attr("stroke", "#222").attr("stroke-width", 0.9)
      .attr("marker-end", "url(#annHead)");
    g.append("text")
      .attr("x", x(n.label[0])).attr("y", y(n.label[1]) + 6)
      .attr("text-anchor", "middle").attr("font-family", SERIF).attr("font-size", 18).attr("fill", "#111")
      .text(n.name);
  });

  // box
  g.append("rect")
    .attr("x", x0).attr("y", y0).attr("width", pw).attr("height", ph)
    .attr("fill", "none").attr("stroke", "#b0b0b0").attr("stroke-width", 1.3);
});

// legend (inside the last panel)
const lg = svg.append("g");
lg.append("rect").attr("x", 1069.8).attr("y", 391).attr("width", 204.2).attr("height", 72.3)
  .attr("fill", "#fff").attr("stroke", "#b0b0b0").attr("stroke-width", 1.2);
const legendColors = ["#00e000", "#ff0000", "#0000ff"];
lg.selectAll("circle").data(legendLabels).join("circle")
  .attr("cx", 1083).attr("cy", (d, k) => 409.3 + k * 18.2).attr("r", 3.6)
  .attr("fill", (d, k) => legendColors[k]);
lg.selectAll("text").data(legendLabels).join("text")
  .attr("x", 1097).attr("y", (d, k) => 414.5 + k * 18.2)
  .attr("font-family", SANS).attr("font-size", 15).attr("fill", "#111")
  .text(d => d);

// ---------- caption ----------
const cap = svg.append("g");
captionLines.forEach((segs, k) => {
  const t = cap.append("text")
    .attr("x", 25).attr("y", 739.5 + k * 26.6)
    .attr("font-family", "'Open Sans', 'Noto Sans', sans-serif").attr("font-size", 18).attr("fill", "#2a2627")
    .attr("textLength", captionWidths[k]).attr("lengthAdjust", "spacingAndGlyphs");
  segs.forEach(s => t.append("tspan").attr("font-weight", s[1] ? "bold" : "normal").text(s[0]));
});
</script>
</body>
</html>
